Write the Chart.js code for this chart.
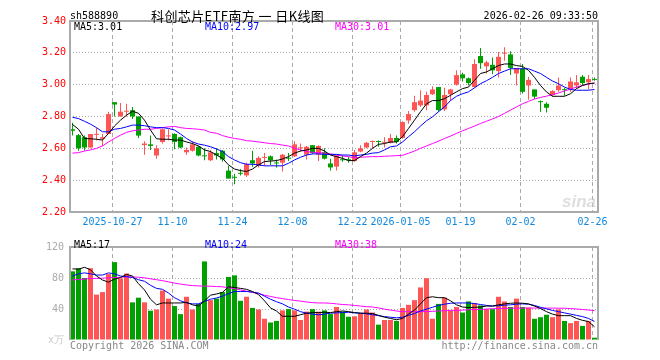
<!DOCTYPE html>
<html>
<head>
<meta charset="utf-8">
<script src="https://cdn.jsdelivr.net/npm/chart.js@4.4.1/dist/chart.umd.min.js"></script>
<style>
html, body { margin: 0; padding: 0; background: #fff; }
#wrap { position: relative; width: 660px; height: 360px; overflow: hidden; }
canvas { position: absolute; left: 0; }
#kline { top: 0; }
#vol { top: 235px; }
</style>
</head>
<body>
<div id="wrap">
  <canvas id="kline" width="660" height="235"></canvas>
  <canvas id="vol" width="660" height="125"></canvas>
</div>
<script>
// 日K数据 (2025-10-16 .. 2026-02-26), 读自原图
const opens = [2.72,2.683,2.67,2.605,2.685,2.66,2.69,2.89,2.80,2.83, 2.84,2.80,2.62,2.625,2.555,2.64,2.675,2.69,2.67,2.575,
  2.585,2.61,2.555,2.525,2.57,2.585,2.46,2.42,2.445,2.43, 2.525,2.49,2.54,2.55,2.51,2.51,2.54,2.55,2.60,2.56,
  2.62,2.56,2.575,2.505,2.485,2.53,2.53,2.52,2.58,2.605, 2.64,2.645,2.635,2.635,2.665,2.665,2.775,2.84,2.87,2.87,
  2.94,2.985,2.845,2.94,3.00,3.065,3.04,2.985,3.18,3.115, 3.125,3.085,3.195,3.19,3.07,3.10,2.995,2.97,2.895,2.88,
  2.935,2.965,2.97,2.97,2.995,3.05,3.015,3.035];
const highs = [2.76,2.69,2.68,2.69,2.73,2.69,2.83,2.89,2.885,2.88, 2.86,2.80,2.645,2.68,2.62,2.725,2.72,2.695,2.675,2.605,
  2.645,2.615,2.60,2.59,2.60,2.59,2.49,2.44,2.47,2.51, 2.585,2.55,2.57,2.555,2.53,2.565,2.57,2.645,2.63,2.615,
  2.62,2.62,2.60,2.535,2.56,2.555,2.545,2.59,2.62,2.64, 2.65,2.65,2.67,2.69,2.68,2.77,2.835,2.93,2.965,2.955,
  2.99,2.985,2.98,2.975,3.09,3.075,3.045,3.16,3.23,3.15, 3.17,3.205,3.235,3.21,3.105,3.13,3.05,2.97,2.90,2.89,
  2.965,3.045,2.98,3.045,3.06,3.06,3.06,3.045];
const lows = [2.68,2.585,2.585,2.60,2.65,2.615,2.69,2.80,2.80,2.80, 2.785,2.665,2.56,2.59,2.535,2.63,2.65,2.595,2.60,2.56,
  2.58,2.55,2.525,2.52,2.53,2.515,2.41,2.375,2.43,2.42, 2.485,2.48,2.49,2.495,2.48,2.455,2.52,2.545,2.58,2.53,
  2.565,2.52,2.53,2.46,2.46,2.515,2.51,2.515,2.575,2.60, 2.60,2.61,2.605,2.63,2.63,2.66,2.755,2.83,2.86,2.84,
  2.935,2.83,2.835,2.90,2.995,3.02,2.995,2.98,3.10,3.07, 3.065,3.045,3.15,3.06,2.995,2.945,2.905,2.91,2.83,2.825,
  2.925,2.955,2.93,2.955,2.975,2.995,2.97,3.025];
const closes = [2.71,2.60,2.605,2.69,2.69,2.67,2.815,2.875,2.83,2.835, 2.80,2.68,2.63,2.615,2.60,2.72,2.68,2.64,2.605,2.59,
  2.625,2.555,2.55,2.575,2.555,2.53,2.41,2.415,2.44,2.50, 2.505,2.54,2.545,2.525,2.505,2.56,2.535,2.625,2.605,2.61,
  2.57,2.615,2.535,2.48,2.555,2.525,2.525,2.575,2.60,2.635, 2.645,2.64,2.64,2.665,2.64,2.765,2.815,2.89,2.90,2.935,
  2.97,2.84,2.935,2.97,3.06,3.04,3.01,3.13,3.135,3.14, 3.09,3.175,3.20,3.105,3.105,2.955,3.03,2.925,2.89,2.855,
  2.96,2.995,2.965,3.02,3.015,3.01,3.035,3.03];

const ma5 = [2.75,2.72,2.662,2.66,2.657,2.652,2.694,2.74,2.777,2.808, 2.833,2.82,2.777,2.715,2.66,2.657,2.657,2.652,2.652,2.64,
  2.63,2.615,2.59,2.58,2.558,2.537,2.496,2.47,2.46,2.455, 2.47,2.496,2.517,2.52,2.523,2.533,2.548,2.57,2.583,2.59,
  2.60,2.60,2.583,2.558,2.548,2.537,2.523,2.523,2.548,2.57, 2.60,2.625,2.63,2.64,2.64,2.673,2.725,2.777,2.83,2.88,
  2.90,2.90,2.912,2.933,2.955,2.975,2.985,3.027,3.07,3.08, 3.10,3.12,3.13,3.13,3.12,3.115,3.09,3.046,2.995,2.954,
  2.927,2.927,2.927,2.943,2.975,2.995,3.006,3.01];
const ma10 = [2.795,2.787,2.77,2.752,2.73,2.704,2.704,2.72,2.725,2.735, 2.746,2.746,2.742,2.735,2.73,2.73,2.725,2.715,2.69,2.662,
  2.64,2.627,2.62,2.61,2.596,2.58,2.548,2.527,2.51,2.50, 2.50,2.496,2.49,2.49,2.49,2.49,2.506,2.527,2.544,2.558,
  2.565,2.565,2.562,2.562,2.562,2.558,2.558,2.552,2.558,2.562, 2.57,2.573,2.59,2.61,2.615,2.64,2.673,2.704,2.74,2.773,
  2.798,2.83,2.86,2.90,2.927,2.943,2.955,2.98,3.006,3.025, 3.046,3.07,3.085,3.10,3.10,3.10,3.10,3.085,3.07,3.046,
  3.023,3.006,2.985,2.97,2.965,2.965,2.965,2.97];
const ma30 = [2.57,2.573,2.583,2.59,2.60,2.615,2.64,2.662,2.683,2.70, 2.71,2.715,2.72,2.72,2.725,2.73,2.735,2.738,2.73,2.725,
  2.723,2.72,2.715,2.70,2.695,2.68,2.67,2.662,2.657,2.648, 2.645,2.64,2.635,2.63,2.627,2.62,2.615,2.60,2.59,2.58,
  2.575,2.573,2.57,2.565,2.558,2.552,2.548,2.54,2.544,2.546, 2.548,2.548,2.55,2.552,2.554,2.556,2.569,2.583,2.60,2.615,
  2.63,2.645,2.662,2.677,2.694,2.71,2.725,2.74,2.756,2.77, 2.785,2.80,2.82,2.84,2.86,2.88,2.895,2.91,2.92,2.928,
  2.937,2.948,2.96,2.972,2.985,2.995,3.004,3.01];

// 成交量 (万手)
const volumes = [88.6,92.6,80,92.6,58.6,61.8,85,100.5,79.5,85.8, 48.6,54.6,48.6,37.8,39.4,63.8,53.4,43.8,33.4,55.8,
  39.4,46.6,101.4,51.4,53.4,61.8,81.4,83.4,50.6,55.8, 41.4,39.4,27.4,22.6,24.6,38.2,39.8,38.2,25.8,36.6,
  39.8,36.6,38.2,33.4,42.6,36.6,30,30.6,34.6,39.4, 35.4,19.8,25.8,25.8,24.6,41.4,45.4,51.4,67.8,79.8,
  27.4,46.6,54.6,37.8,42.6,35.4,49.8,47.8,44.6,39.8, 39.8,55.8,49.8,42.6,53.4,42.6,41.8,27.4,29.4,32.6,
  29.4,39.4,24.6,21.8,24.6,18.2,24.6,3];
const volMa5 = [91.8,91.4,93.8,90.6,82.6,77.4,74.6,78.6,80.6,84.6, 82.6,72.6,64.6,52.6,45.4,47.8,47.8,47.8,47.8,48.6,
  45.4,43.8,50.6,57.8,59.4,61.4,68.6,67.8,66.6,65.4, 62.6,58.6,50.6,41.4,37.4,30.6,30.6,30.6,32.6,34.6,
  35.4,35.4,35.8,35.4,36.6,37.4,36.6,35.4,34.6,34.6, 34.2,31.8,29.4,27.8,26.2,27.8,33.4,38.6,46.6,54.6,
  55.8,54.6,54.6,50.6,45.4,42.6,41.8,42.2,42.6,43.8, 43.8,45.4,46.6,47.4,47.8,47.4,46.6,43.8,40.6,36.6,
  33.4,31.4,31.4,31.4,27.8,25.4,23.8,17];
const volMa10 = [82.6,85.4,86.6,85.4,83.8,83.8,86.6,85.4,82.6,81.8, 80.6,77.8,75.8,70.6,66.6,65.4,60.6,54.6,50.6,47.8,
  46.6,46.6,49.8,52.6,54.2,56.6,59.8,62.6,62.6,62.6, 61.8,60.6,56.6,52.6,49.4,46.6,42.6,39.8,36.6,34.6,
  33.4,32.6,33.4,34.6,35,35.4,35.8,35,34.6,33.8, 32.6,31.4,30.2,29.4,28.6,29.4,31.8,34.2,37.4,39.8,
  42.2,44.6,46.2,47.4,47.8,47.8,47.8,47,45.8,44.6, 43.8,44.2,45,45.4,46.2,46.6,46.2,44.6,42.2,40.2,
  38.2,36.6,35,33.4,31.8,30.2,27.8,24];
const volMa30 = [77.4,78.2,78.6,79.4,79.4,79.8,80.2,80.6,81,81.4, 81.4,81,80.2,79,77.8,76.6,75,73.4,72.2,71,
  70.2,69.8,69.4,69.4,69,68.6,67.4,66.2,64.6,63, 61.4,59.8,57.8,56.2,54.6,53.4,52.2,51,50.2,49,
  48.2,47.8,47.8,47.4,46.6,45.8,45.4,44.6,43.8,43, 42.6,41.4,39.8,38.6,37.4,36.6,36.6,36.6,36.6,36.6,
  37,37.4,37.8,38.2,38.2,38.6,39,39.4,39.4,40, 40.4,40.6,40.8,41,41,41.2,41.2,41.2,41.2,41.2,
  41.2,41,41,40.6,40,39.4,38.6,38];

// 坐标轴
const tickIdx = [7, 17, 27, 37, 47, 55, 65, 75, 87];
const tickLabels = ['2025-10-27', '11-10', '11-24', '12-08', '12-22', '2026-01-05', '01-19', '02-02', '02-26'];
const priceTicks = [2.2, 2.4, 2.6, 2.8, 3.0, 3.2, 3.4];
const volTicks = [0, 40, 80, 120];

const MONO = '"DejaVu Sans Mono", monospace';
const UP = '#ff5555';
const DOWN = '#00a000';
const colors = opens.map((o, i) => closes[i] >= o ? UP : DOWN);
const n = closes.length;
const last = a => a[a.length - 1];

function xAxis(showLabels, h) {
    return {
        type: 'linear',
        min: -2.5 / 6,
        max: n - 2.5 / 6,
        offset: false,
        afterBuildTicks: s => { s.ticks = tickIdx.map(i => ({ value: i - 1 / 3 })); },
        afterFit: s => { s.height = h; },
        grid: { color: '#aaa', lineWidth: 1, drawTicks: false, offset: false },
        border: { display: false, dash: [4, 3] },
        ticks: {
            display: showLabels, autoSkip: false, maxRotation: 0, padding: 4,
            color: '#1188dd', font: { family: MONO, size: 10 },
            callback: (v, i) => tickLabels[i]
        }
    };
}

function maLine(data, color) {
    return {
        type: 'line',
        data: data.map((v, i) => ({ x: i, y: v })),
        borderColor: color,
        borderWidth: 1,
        pointRadius: 0,
        tension: 0,
        order: 0
    };
}

// K线图
const klinePlugin = {
    id: 'klineDecor',
    beforeDatasetsDraw(chart) {
        const { ctx, chartArea: a } = chart;
        ctx.save();
        ctx.font = 'bold italic 17px "Liberation Sans", sans-serif';
        ctx.fillStyle = 'rgba(200,200,200,0.6)';
        ctx.textAlign = 'right';
        ctx.textBaseline = 'alphabetic';
        ctx.fillText('sina', a.right - 2, a.bottom - 5);
        ctx.restore();
    },
    afterDraw(chart) {
        const { ctx, chartArea: a } = chart;
        ctx.save();
        ctx.strokeStyle = '#aaa';
        ctx.lineWidth = 2;
        ctx.strokeRect(a.left, a.top, a.right - a.left, a.bottom - a.top);

        ctx.textBaseline = 'middle';
        ctx.font = '10px ' + MONO;
        ctx.fillStyle = '#000';
        ctx.textAlign = 'left';
        ctx.fillText('sh588890', 70, 16);
        ctx.textAlign = 'right';
        ctx.fillText('2026-02-26 09:33:50', 598, 16);
        // 标题: 宋体风格, 字距稍宽
        ctx.textAlign = 'left';
        ctx.font = '13px "Noto Sans CJK SC", sans-serif';
        ctx.letterSpacing = '0.4px';
        ctx.fillText('科创芯片ETF南方 一 日K线图', 151, 16);
        ctx.letterSpacing = '0px';

        ctx.font = '10px ' + MONO;
        ctx.fillStyle = '#000';
        ctx.fillText('MA5:' + last(ma5).toFixed(2), 74, 27);
        ctx.fillStyle = '#0000ff';
        ctx.fillText('MA10:' + last(ma10).toFixed(2), 205, 27);
        ctx.fillStyle = '#ff00ff';
        ctx.fillText('MA30:' + last(ma30).toFixed(2), 335, 27);
        ctx.restore();
    }
};

new Chart(document.getElementById('kline'), {
    type: 'bar',
    data: {
        datasets: [
            maLine(ma5, '#000000'),
            maLine(ma10, '#0000ff'),
            maLine(ma30, '#ff00ff'),
            {
                type: 'bar',
                data: closes.map((c, i) => ({ x: i, y: [opens[i], c] })),
                backgroundColor: colors,
                barThickness: 5,
                minBarLength: 1,
                grouped: false,
                inflateAmount: 0,
                order: 1
            },
            {
                type: 'bar',
                data: highs.map((h, i) => ({ x: i, y: [lows[i], h] })),
                backgroundColor: colors,
                barThickness: 1,
                grouped: false,
                inflateAmount: 0,
                order: 2
            }
        ]
    },
    options: {
        responsive: false,
        animation: false,
        devicePixelRatio: 1,
        layout: { padding: { top: 21, right: 62, left: 0, bottom: 0 } },
        plugins: { legend: { display: false }, tooltip: { enabled: false } },
        scales: {
            x: xAxis(true, 23),
            y: {
                min: 2.2, max: 3.4,
                afterBuildTicks: s => { s.ticks = priceTicks.map(v => ({ value: v })); },
                afterFit: s => { s.width = 70; },
                grid: { color: '#aaa', drawTicks: false },
                border: { display: false, dash: [1, 2] },
                ticks: { padding: 4, color: '#ff0000', font: { family: MONO, size: 10 }, callback: v => v.toFixed(2) }
            }
        }
    },
    plugins: [klinePlugin]
});

// 成交量
const volPlugin = {
    id: 'volDecor',
    afterDraw(chart) {
        const { ctx, chartArea: a } = chart;
        ctx.save();
        ctx.strokeStyle = '#aaa';
        ctx.lineWidth = 2;
        ctx.beginPath();
        ctx.moveTo(a.left, a.bottom);
        ctx.lineTo(a.left, a.top);
        ctx.lineTo(a.right, a.top);
        ctx.lineTo(a.right, a.bottom);
        ctx.stroke();

        ctx.textBaseline = 'middle';
        ctx.font = '10px ' + MONO;
        ctx.textAlign = 'left';
        ctx.fillStyle = '#000';
        ctx.fillText('MA5:' + Math.round(last(volMa5)), 74, 10);
        ctx.fillStyle = '#0000ff';
        ctx.fillText('MA10:' + Math.round(last(volMa10)), 205, 10);
        ctx.fillStyle = '#ff00ff';
        ctx.fillText('MA30:' + Math.round(last(volMa30)), 335, 10);

        ctx.fillStyle = '#888';
        ctx.fillText('Copyright 2026 SINA.COM', 70, 111);
        ctx.textAlign = 'right';
        ctx.fillText('http://finance.sina.com.cn', 598, 111);
        ctx.restore();
    }
};

new Chart(document.getElementById('vol'), {
    type: 'bar',
    data: {
        datasets: [
            maLine(volMa5, '#000000'),
            maLine(volMa10, '#0000ff'),
            maLine(volMa30, '#ff00ff'),
            {
                type: 'bar',
                data: volumes.map((v, i) => ({ x: i, y: v })),
                backgroundColor: colors,
                barThickness: 5,
                grouped: false,
                inflateAmount: 0,
                order: 1
            }
        ]
    },
    options: {
        responsive: false,
        animation: false,
        devicePixelRatio: 1,
        layout: { padding: { top: 5, right: 62, left: 0, bottom: 0 } },
        plugins: { legend: { display: false }, tooltip: { enabled: false } },
        scales: {
            x: xAxis(false, 20),
            y: {
                min: 0, max: 120,
                afterBuildTicks: s => { s.ticks = volTicks.map(v => ({ value: v })); },
                afterFit: s => { s.width = 70; },
                grid: { color: c => c.tick && c.tick.value === 0 ? 'rgba(0,0,0,0)' : '#aaa', drawTicks: false },
                border: { display: false, dash: [1, 2] },
                ticks: {
                    padding: 6,
                    color: c => c.tick && c.tick.value === 0 ? '#c8c8c8' : '#aaa',
                    font: { family: MONO, size: 10 },
                    callback: v => v === 0 ? 'x万' : String(v)
                }
            }
        }
    },
    plugins: [volPlugin]
});
</script>
</body>
</html>
